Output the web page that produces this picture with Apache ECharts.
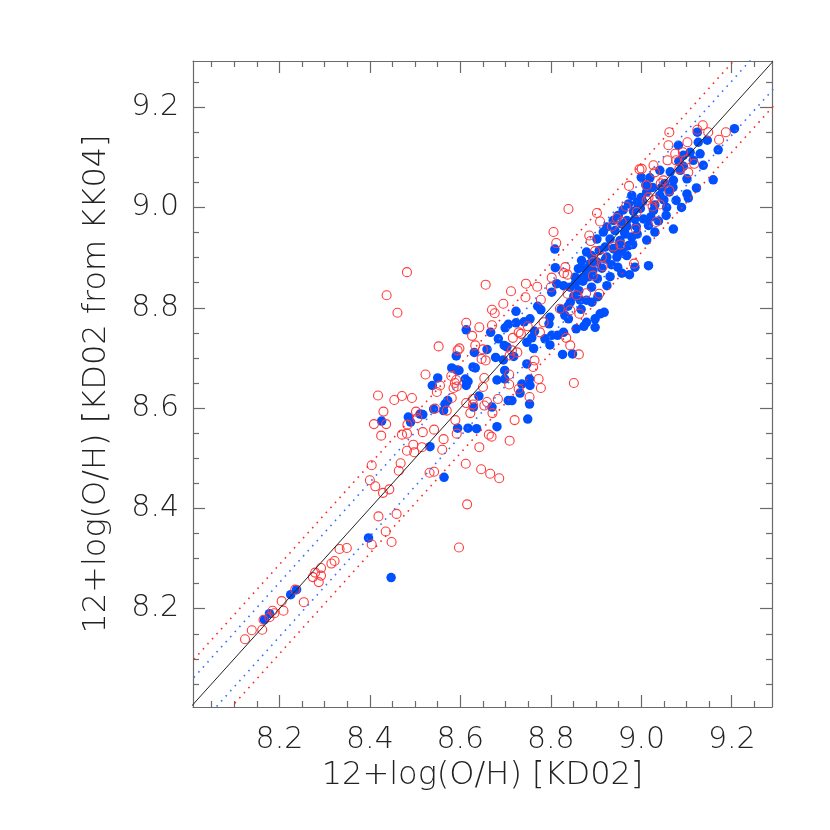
<!DOCTYPE html>
<html>
<head>
<meta charset="utf-8">
<script src="https://cdn.jsdelivr.net/npm/echarts@6/dist/echarts.min.js"></script>
<style>html,body{margin:0;padding:0;background:#fff}#c{width:830px;height:830px}</style>
</head>
<body>
<div id="c"></div>
<script>
// Axis ranges and ticks
const xMin = 8.009, xMax = 9.289;
const yMin = 8.004, yMax = 9.292;
const xMajor = [8.2, 8.4, 8.6, 8.8, 9.0, 9.2];
const yMajor = [8.2, 8.4, 8.6, 8.8, 9.0, 9.2];
const xMinor = [8.05, 8.1, 8.15, 8.25, 8.3, 8.35, 8.45, 8.5, 8.55, 8.65, 8.7, 8.75, 8.85, 8.9, 8.95, 9.05, 9.1, 9.15, 9.25];
const yMinor = [8.05, 8.1, 8.15, 8.25, 8.3, 8.35, 8.45, 8.5, 8.55, 8.65, 8.7, 8.75, 8.85, 8.9, 8.95, 9.05, 9.1, 9.15, 9.25];
const xTitle = '12+log(O/H) [KD02]';
const yTitle = '12+log(O/H) [KD02 from KK04]';

// Reference lines: offsets from the one-to-one line
const lineSpan = [7.9, 9.4];
const oneToOne = 0.0;
const blueOffsets = [0.052, -0.056];
const redOffsets = [0.088, -0.090];

// Filled blue points [KD02, KD02 from KK04]
const bluePoints = [
[8.238,8.238],[8.225,8.228],[8.178,8.190],[8.167,8.178],[8.397,8.341],[8.447,8.262],
[8.723,8.793],[8.723,8.770],[8.706,8.767],[8.699,8.760],[8.613,8.756],[8.667,8.751],[8.697,8.725],[8.659,8.717],[8.631,8.711],[8.591,8.704],[8.678,8.701],[8.695,8.696],[8.581,8.680],[8.592,8.676],[8.597,8.675],[8.628,8.682],[8.633,8.680],[8.698,8.675],[8.550,8.660],[8.611,8.658],[8.617,8.653],[8.681,8.656],[8.698,8.658],[8.538,8.645],[8.613,8.645],[8.641,8.624],[8.706,8.615],[8.714,8.615],[8.572,8.615],[8.670,8.602],[8.541,8.598],[8.566,8.608],[8.563,8.595],[8.629,8.602],[8.485,8.582],[8.511,8.588],[8.517,8.587],[8.426,8.574],[8.490,8.572],[8.594,8.560],[8.617,8.560],[8.636,8.559],[8.681,8.563],[8.533,8.523],[8.564,8.462],
[8.802,8.831],[8.813,8.848],[8.828,8.844],[8.843,8.841],[8.854,8.848],[8.890,8.841],[8.924,8.844],[8.843,8.811],[8.865,8.815],[8.879,8.815],[8.891,8.811],[8.778,8.796],[8.798,8.781],[8.831,8.785],[8.839,8.778],[8.879,8.771],[8.898,8.778],[8.909,8.788],[8.918,8.791],[8.754,8.778],[8.856,8.758],[8.873,8.763],[8.898,8.761],[8.764,8.753],[8.802,8.745],[8.815,8.745],[8.828,8.751],[8.798,8.726],[8.826,8.707],[8.848,8.708],[8.758,8.740],[8.747,8.731],[8.747,8.688],[8.753,8.658],[8.754,8.645],[8.736,8.648],[8.732,8.630],[8.753,8.608],[8.749,8.578],
[8.810,8.880],[8.809,8.917],
[8.979,9.024],[8.991,9.011],[8.972,9.007],[8.960,8.995],[8.949,8.984],[8.938,8.974],[8.968,8.974],[8.986,8.977],[8.957,8.967],[8.924,8.961],[8.916,8.951],[8.942,8.954],[8.964,8.947],[8.979,8.941],[8.991,8.947],[8.902,8.937],[8.931,8.937],[8.953,8.934],[8.972,8.924],[8.920,8.921],[8.938,8.918],[8.957,8.913],[8.907,8.914],[8.890,8.904],[8.879,8.911],[8.868,8.894],[8.887,8.888],[8.902,8.891],[8.924,8.901],[8.946,8.901],[8.968,8.904],[8.861,8.878],[8.876,8.878],[8.854,8.861],[8.872,8.861],[8.957,8.869],[8.974,8.866],[8.986,8.881],[9.016,8.884],
[9.206,9.157],[9.124,9.150],[9.146,9.134],[9.082,9.124],[9.126,9.130],[9.108,9.110],[9.130,9.107],[9.170,9.115],[9.093,9.104],[9.115,9.094],[9.137,9.084],[9.159,9.055],[9.122,9.039],[9.093,9.082],[9.086,9.074],[9.101,9.057],[9.071,9.054],[9.041,9.074],[9.019,9.059],[9.101,9.027],[9.104,9.019],[9.077,9.014],[9.089,9.000],[9.062,9.031],[9.041,9.024],[9.012,9.031],[9.056,9.000],[9.055,8.984],[9.027,8.994],[9.005,8.977],[9.016,8.964],[9.071,8.957],[9.030,8.951],[9.012,8.935],
[9.000,9.060],[9.010,9.045],[9.025,9.040],[9.045,9.040],[9.000,9.020],[9.030,9.005],[9.050,9.015],[9.070,9.040],[8.998,8.998],
[8.862,8.834],[8.871,8.853],[8.884,8.862],[8.893,8.874],[8.903,8.858],[8.913,8.879],[8.921,8.897],[8.934,8.886],[8.941,8.917],[8.952,8.928],[8.963,8.951],[8.968,8.962],[8.983,8.992],[8.993,9.001],[9.003,9.012],[8.851,8.823],[8.838,8.803],[8.823,8.797],[8.867,8.797],[8.904,8.822],[8.931,8.862],[8.948,8.881],[8.962,8.908],[8.981,8.926],[8.989,8.962],[9.021,8.981],[9.038,8.973],[9.052,9.048],[9.064,9.071],[9.083,9.092],[8.796,8.768],[8.787,8.738],[8.762,8.719],[8.718,8.703],[8.703,8.722],[8.684,8.738],[8.741,8.772],[8.771,8.803]
];

// Open red circles [KD02, KD02 from KK04]
const redPoints = [
[8.400,8.456],[8.412,8.444],[8.429,8.431],[8.443,8.438],[8.419,8.384],[8.459,8.389],[8.435,8.354],[8.448,8.333],[8.404,8.328],[8.333,8.319],[8.349,8.321],[8.315,8.290],[8.322,8.295],[8.292,8.281],[8.279,8.272],[8.274,8.263],[8.292,8.266],[8.287,8.253],[8.235,8.238],[8.205,8.215],[8.254,8.213],[8.185,8.196],[8.209,8.196],[8.189,8.191],[8.178,8.183],[8.165,8.178],[8.139,8.157],[8.162,8.158],[8.124,8.139],
[8.482,8.871],[8.656,8.846],[8.712,8.833],[8.437,8.825],[8.695,8.808],[8.670,8.796],[8.676,8.789],[8.461,8.790],[8.613,8.770],[8.670,8.765],[8.642,8.761],[8.729,8.751],[8.716,8.740],[8.626,8.744],[8.552,8.723],[8.633,8.725],[8.598,8.719],[8.594,8.715],[8.650,8.717],[8.714,8.715],[8.726,8.711],[8.647,8.698],[8.656,8.695],[8.709,8.705],[8.523,8.667],[8.580,8.664],[8.653,8.660],[8.708,8.667],[8.591,8.656],[8.588,8.650],[8.555,8.645],[8.592,8.643],[8.708,8.647],[8.548,8.632],[8.650,8.642],[8.585,8.640],[8.729,8.638],[8.418,8.625],[8.471,8.624],[8.493,8.620],[8.454,8.616],[8.628,8.618],[8.683,8.618],[8.581,8.620],[8.659,8.612],[8.613,8.610],[8.628,8.607],[8.653,8.605],[8.544,8.599],[8.570,8.595],[8.671,8.590],[8.622,8.590],[8.430,8.593],[8.502,8.593],[8.505,8.580],[8.409,8.568],[8.436,8.568],[8.483,8.567],[8.720,8.576],[8.589,8.576],[8.542,8.557],[8.517,8.552],[8.592,8.549],[8.482,8.549],[8.471,8.547],[8.425,8.545],[8.663,8.547],[8.669,8.543],[8.709,8.535],[8.563,8.538],[8.496,8.527],[8.482,8.515],[8.498,8.512],[8.515,8.522],[8.560,8.517],[8.642,8.522],[8.404,8.486],[8.468,8.490],[8.612,8.489],[8.464,8.475],[8.532,8.471],[8.542,8.473],[8.646,8.478],[8.666,8.469],[8.686,8.460],
[8.745,8.848],[8.770,8.842],[8.744,8.821],[8.800,8.841],[8.778,8.816],[8.837,8.828],[8.857,8.825],[8.878,8.829],[8.907,8.828],[8.820,8.798],[8.843,8.795],[8.863,8.788],[8.784,8.771],[8.834,8.740],[8.776,8.751],[8.749,8.763],[8.734,8.748],[8.843,8.725],[8.862,8.707],[8.764,8.695],[8.761,8.682],[8.851,8.650],[8.773,8.658],[8.778,8.640],[8.753,8.622],
[8.806,8.951],[8.812,8.929],[8.802,8.860],
[8.996,9.076],[8.973,9.043],[8.839,8.997],[8.966,9.002],[8.902,8.989],[8.909,8.972],[8.885,8.944],[8.946,8.979],[8.957,8.971],[8.935,8.962],[8.990,8.991],[8.988,8.957],[8.888,8.933],[8.898,8.913],[8.938,8.922],[8.954,8.926],[8.913,8.901],[8.894,8.891],[8.915,8.883],[8.893,8.864],[8.984,8.888],[8.832,8.881],[8.829,8.869],[8.837,8.866],
[9.062,9.150],[9.060,9.124],[9.102,9.130],[9.136,9.164],[9.124,9.155],[9.148,9.150],[9.172,9.135],[9.187,9.150],[9.075,9.107],[9.092,9.110],[9.117,9.087],[9.058,9.094],[9.077,9.094],[9.099,9.095],[9.084,9.077],[9.104,9.070],[9.027,9.084],[9.001,9.077],[9.030,9.070],[9.012,9.044],[9.049,9.054],[9.043,9.048],[9.062,9.034],[9.016,9.020],[9.012,9.014],[9.030,9.015],[9.025,9.002],[9.041,9.006],[9.033,8.971],
[8.615,8.408],[8.597,8.322]
];

const FONT = "'DejaVu Sans', 'Liberation Sans', sans-serif";
const AX = '#6a6a6a';
const TXT = '#222';

function lineData(off) {
  return [[lineSpan[0], lineSpan[0] + off], [lineSpan[1], lineSpan[1] + off]];
}
function refLine(off, color, dotted) {
  return {
    type: 'line', data: lineData(off), showSymbol: false, symbol: 'none', clip: true, z: 5,
    silent: true, xAxisIndex: 0, yAxisIndex: 0,
    lineStyle: dotted ? { color: color, width: 1.6, type: [1.6, 5.2] } : { color: color, width: 1 }
  };
}
function majorAxis(pos, isX, withLabel) {
  const ticks = isX ? xMajor : yMajor;
  const ax = {
    type: 'value', min: isX ? xMin : yMin, max: isX ? xMax : yMax, position: pos,
    axisLine: { show: true, onZero: false, lineStyle: { color: AX, width: 1.2 } },
    axisTick: { show: true, inside: true, length: 12, customValues: ticks, lineStyle: { color: AX, width: 1.2 } },
    axisLabel: withLabel ? {
      show: true, customValues: ticks, formatter: v => v.toFixed(1),
      margin: isX ? 18 : 14, fontSize: 30, color: TXT, fontFamily: FONT, fontWeight: 200
    } : { show: false },
    splitLine: { show: false }, minorTick: { show: false }
  };
  if (withLabel) {
    ax.name = isX ? xTitle : yTitle;
    ax.nameLocation = 'middle';
    ax.nameGap = isX ? 47 : 80;
    ax.nameTextStyle = { fontSize: 32, color: TXT, fontFamily: FONT, fontWeight: 200 };
  }
  return ax;
}
function minorAxis(pos, isX) {
  return {
    type: 'value', min: isX ? xMin : yMin, max: isX ? xMax : yMax, position: pos,
    axisLine: { show: false },
    axisTick: { show: true, inside: true, length: 6, customValues: isX ? xMinor : yMinor, lineStyle: { color: AX, width: 1.2 } },
    axisLabel: { show: false }, splitLine: { show: false }
  };
}

const chart = echarts.init(document.getElementById('c'), null, { renderer: 'canvas' });
chart.setOption({
  animation: false,
  backgroundColor: '#fff',
  grid: { left: 193, right: 58, top: 61, bottom: 123, containLabel: false },
  xAxis: [majorAxis('bottom', true, true), minorAxis('bottom', true), majorAxis('top', true, false), minorAxis('top', true)],
  yAxis: [majorAxis('left', false, true), minorAxis('left', false), majorAxis('right', false, false), minorAxis('right', false)],
  series: [
    { type: 'scatter', data: bluePoints, symbol: 'circle', symbolSize: 9.5, z: 2,
      itemStyle: { color: '#0050ff', opacity: 1 } },
    { type: 'scatter', data: redPoints, symbol: 'circle', symbolSize: 9, z: 3,
      itemStyle: { color: 'rgba(255,255,255,0)', borderColor: '#ff3b3b', borderWidth: 1.1, opacity: 1 } },
    refLine(oneToOne, '#222', false),
    refLine(blueOffsets[0], '#3a6cff', true),
    refLine(blueOffsets[1], '#3a6cff', true),
    refLine(redOffsets[0], '#ff2626', true),
    refLine(redOffsets[1], '#ff2626', true)
  ]
});
</script>
</body>
</html>
